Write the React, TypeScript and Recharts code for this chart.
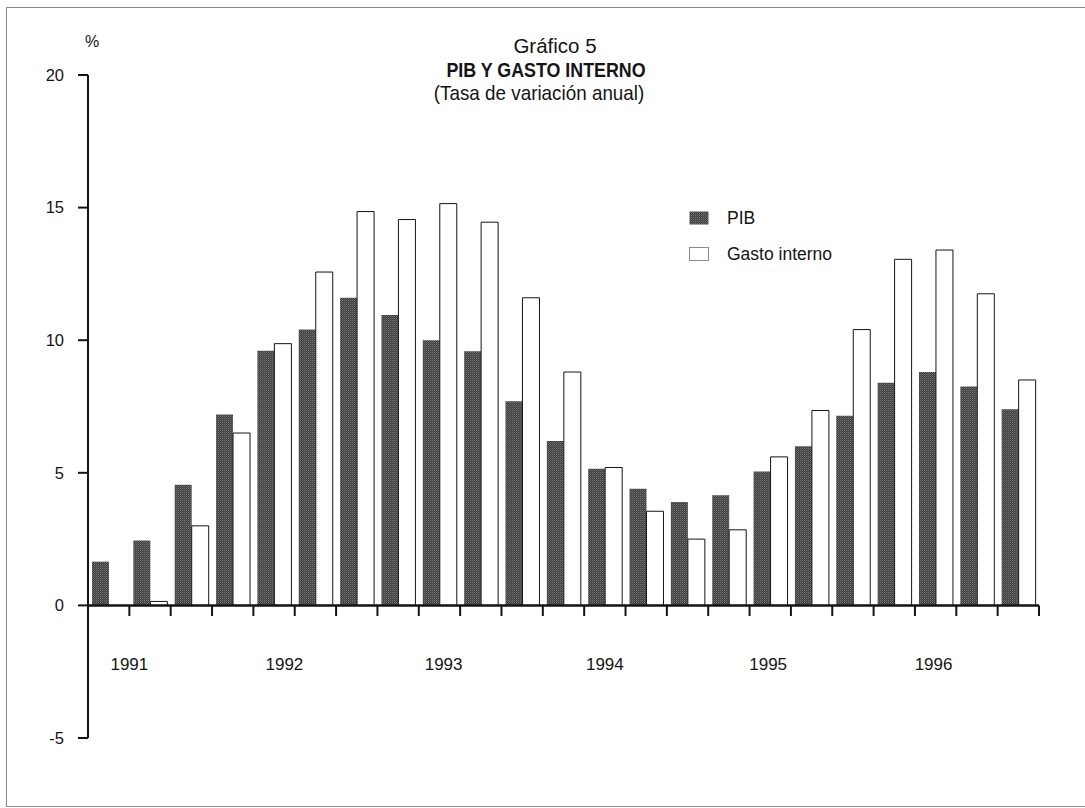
import React from 'react'
import {
  BarChart,
  Bar,
  XAxis,
  YAxis,
  ReferenceLine,
  ReferenceDot,
  Legend,
} from 'recharts'

// quarterly data, 1991-I .. 1996-III (4-quarter rolling growth, %)
const quarters = [
  '91-I', '91-II', '91-III', '91-IV',
  '92-I', '92-II', '92-III', '92-IV',
  '93-I', '93-II', '93-III', '93-IV',
  '94-I', '94-II', '94-III', '94-IV',
  '95-I', '95-II', '95-III', '95-IV',
  '96-I', '96-II', '96-III',
]
const pib = [
  1.65, 2.45, 4.55, 7.2, 9.6, 10.4, 11.6, 10.95, 10.0, 9.58, 7.7, 6.2,
  5.15, 4.4, 3.9, 4.15, 5.05, 6.0, 7.15, 8.4, 8.8, 8.25, 7.4,
]
const gasto = [
  0, 0.15, 3.0, 6.5, 9.87, 12.57, 14.85, 14.55, 15.15, 14.45, 11.6, 8.8,
  5.2, 3.55, 2.5, 2.85, 5.6, 7.35, 10.4, 13.05, 13.4, 11.75, 8.5,
]
const yTicks = [-5, 0, 5, 10, 15, 20]
const years = ['1991', '1992', '1993', '1994', '1995', '1996']
// where each year label sits, in quarter units from the left of the axis
const yearLabelAt = [1.0, 4.75, 8.6, 12.5, 16.45, 20.45]

const data = quarters.map((q, i) => ({ q, pos: i + 0.5, pib: pib[i], gasto: gasto[i] }))
const bounds = quarters.map((_, i) => i + 1)

const FONT = '"Liberation Sans", Arial, Helvetica, sans-serif'
const INK = '#141414'

const legendItems = [
  { name: 'PIB', fill: 'url(#pibHatch)', stroke: 'none' },
  { name: 'Gasto interno', fill: '#fff', stroke: '#8a8a8a' },
]

const renderLegend = () => (
  <div style={{ fontFamily: FONT, fontSize: 17.5, color: INK }}>
    {legendItems.map(item => (
      <div key={item.name} style={{ display: 'flex', alignItems: 'center', height: 36 }}>
        <svg width={20} height={14} style={{ marginRight: 18 }}>
          <rect x={0.5} y={0.5} width={19} height={13} fill={item.fill} stroke={item.stroke} />
        </svg>
        <span>{item.name}</span>
      </div>
    ))}
  </div>
)

export default function App() {
  return (
    <div
      style={{
        position: 'absolute',
        left: 0,
        top: 0,
        width: 1085,
        height: 808,
        background: '#fff',
        overflow: 'hidden',
      }}
    >
      <div
        style={{
          position: 'absolute',
          left: 6,
          top: 7,
          width: 1100,
          height: 798,
          border: '1.5px solid #8a8a8a',
        }}
      />
      <svg
        width={1085}
        height={130}
        style={{ position: 'absolute', left: 0, top: 0, pointerEvents: 'none' }}
        fontFamily={FONT}
        fill={INK}
      >
        <text x={555} y={53} textAnchor="middle" fontSize={20.5}>
          Gráfico 5
        </text>
        <text transform="translate(546,77) scale(0.87,1)" textAnchor="middle" fontSize={20.5} fontWeight="bold">
          PIB Y GASTO INTERNO
        </text>
        <text transform="translate(539,100) scale(0.92,1)" textAnchor="middle" fontSize={20.5}>
          (Tasa de variación anual)
        </text>
        <text x={92} y={47} textAnchor="middle" fontSize={16}>
          %
        </text>
      </svg>
      <div style={{ position: 'absolute', left: 0, top: 0 }}>
        <BarChart
          width={1085}
          height={808}
          data={data}
          margin={{ top: 75, right: 46, bottom: 70, left: 0 }}
          barCategoryGap={4}
          barGap={0}
        >
          <defs>
            <pattern id="pibHatch" width="2" height="2" patternUnits="userSpaceOnUse">
              <rect width="2" height="2" fill="#3e3e3e" />
              <rect x="0" y="0" width="1" height="1" fill="#767676" />
              <rect x="1" y="1" width="1" height="1" fill="#5a5a5a" />
            </pattern>
          </defs>
          <XAxis dataKey="q" hide />
          <XAxis xAxisId="num" type="number" dataKey="pos" domain={[0, 23]} hide />
          <YAxis
            domain={[-5, 20]}
            ticks={yTicks}
            interval={0}
            width={88}
            tickSize={10}
            tickMargin={14}
            allowDataOverflow
            axisLine={{ stroke: INK, strokeWidth: 2 }}
            tickLine={{ stroke: INK, strokeWidth: 2 }}
            tick={{ fill: INK, fontSize: 16.5, fontFamily: FONT }}
          />
          <Legend
            layout="vertical"
            align="center"
            verticalAlign="middle"
            content={renderLegend}
            wrapperStyle={{ left: 689, top: 200, width: 220 }}
          />
          <Bar dataKey="pib" fill="url(#pibHatch)" isAnimationActive={false} />
          <Bar dataKey="gasto" fill="#fff" stroke={INK} strokeWidth={1} isAnimationActive={false} />
          <ReferenceLine xAxisId="num" y={0} stroke={INK} strokeWidth={2.5} />
          {bounds.map(b => (
            <ReferenceLine
              key={`tick-${b}`}
              xAxisId="num"
              segment={[
                { x: b, y: 0 },
                { x: b, y: -0.4 },
              ]}
              stroke={INK}
              strokeWidth={2}
              ifOverflow="visible"
            />
          ))}
          {years.map((y, i) => (
            <ReferenceDot
              key={y}
              xAxisId="num"
              x={yearLabelAt[i]}
              y={-2.2}
              r={1}
              fill="none"
              stroke="none"
              label={{ value: y, position: 'center', fill: INK, fontSize: 17, fontFamily: FONT }}
            />
          ))}
        </BarChart>
      </div>
    </div>
  )
}
